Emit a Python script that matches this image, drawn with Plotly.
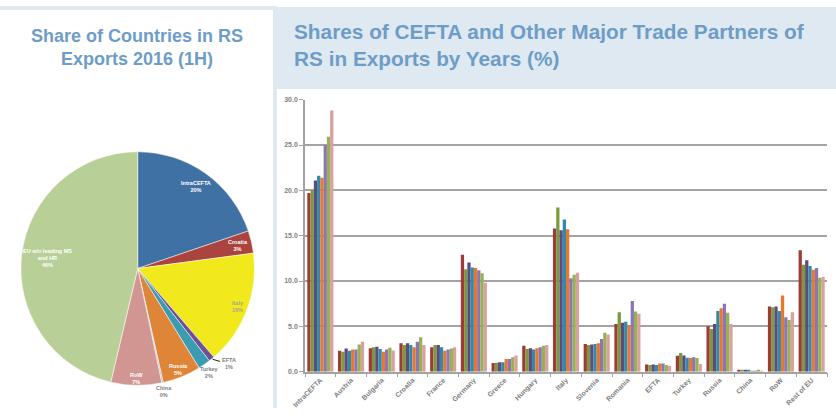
import math
import plotly.graph_objects as go

# Pie: structure of exports, 2016 (1H)
pie_labels = ["IntraCEFTA", "Croatia", "Italy", "EFTA", "Turkey", "Russia",
              "China", "RoW", "EU w/o leading MS<br>and HR"]
pie_values = [19.8, 3.1, 15.8, 0.8, 1.7, 5.3, 0.2, 7.0, 46.3]
pie_colors = ["#3f71a5", "#ab443f", "#f1e91b", "#6f4f95", "#3b9bb0",
              "#df8538", "#9dbbdc", "#d19592", "#b9cf98"]
pie_text_colors = ["white", "white", "#a9a58c", "#808080", "#808080",
                   "white", "#808080", "white", "white"]
# radial position of each label, as a fraction of the pie radius
pie_label_radius = [0.86, 0.88, 0.92, 1.0, 1.08, 0.93, 1.08, 0.94, 0.78]

# Bars: shares by partner and year (%)
partners = ["IntraCEFTA", "Austria", "Bulgaria", "Croatia", "France", "Germany",
            "Greece", "Hungary", "Italy", "Slovenia", "Romania", "EFTA",
            "Turkey", "Russia", "China", "RoW", "Rest of EU"]
years = ["2009", "2010", "2011", "2012", "2013", "2014", "2015", "2016"]
shares = {
    "2009": [19.7, 2.3, 2.6, 3.15, 2.7, 12.9, 0.95, 2.85, 15.8, 3.05, 5.25, 0.8, 1.75, 5.0, 0.18, 7.2, 13.4],
    "2010": [20.0, 2.2, 2.7, 2.95, 2.95, 11.3, 1.0, 2.5, 18.1, 2.95, 6.55, 0.75, 2.05, 4.7, 0.15, 7.1, 11.8],
    "2011": [21.1, 2.55, 2.75, 3.15, 2.95, 12.05, 1.05, 2.6, 15.6, 3.0, 5.4, 0.8, 1.8, 5.25, 0.15, 7.2, 12.3],
    "2012": [21.6, 2.3, 2.5, 2.95, 2.7, 11.5, 1.05, 2.45, 16.8, 3.05, 5.5, 0.75, 1.55, 6.7, 0.15, 6.7, 11.65],
    "2013": [21.4, 2.45, 2.2, 2.7, 2.3, 11.45, 1.4, 2.6, 15.7, 3.15, 5.15, 0.9, 1.5, 7.0, 0.07, 8.4, 11.25],
    "2014": [25.0, 2.45, 2.45, 3.3, 2.45, 11.2, 1.4, 2.7, 10.3, 3.6, 7.8, 0.9, 1.6, 7.5, 0.07, 6.0, 11.45],
    "2015": [25.9, 3.0, 2.65, 3.8, 2.55, 10.85, 1.6, 2.85, 10.7, 4.3, 6.65, 0.75, 1.5, 6.5, 0.18, 5.7, 10.35],
    "2016": [28.8, 3.3, 2.35, 2.95, 2.7, 9.8, 1.8, 2.95, 10.9, 4.1, 6.4, 0.65, 0.85, 5.25, 0.1, 6.55, 10.45],
}
year_colors = ["#9e3b37", "#7b9a3c", "#5e4a7f", "#2f8bab", "#ea772c",
               "#8b75b5", "#95b152", "#d9a09d"]
y_ticks = [0, 5, 10, 15, 20, 25, 30]

W, H = 836, 420
TITLE_BLUE = "#6d9dc7"
PANEL_BLUE = "#dfe9f2"
AXIS_GRAY = "#a3a3a3"
TEXT_GRAY = "#7f7f7f"
FONT = "Liberation Sans, Arial, sans-serif"


def px_x(v):
    return v / W


def px_y(v):
    return 1 - v / H


# pie placement (pixels)
PIE_CX, PIE_CY, PIE_R = 137.7, 268.5, 116.8

fig = go.Figure()

fig.add_trace(go.Pie(
    labels=pie_labels,
    values=pie_values,
    sort=False,
    direction="clockwise",
    rotation=0,
    marker=dict(colors=pie_colors, line=dict(color="white", width=0.5)),
    textinfo="none",
    domain=dict(x=[px_x(PIE_CX - PIE_R), px_x(PIE_CX + PIE_R)],
                y=[px_y(PIE_CY + PIE_R), px_y(PIE_CY - PIE_R)]),
    showlegend=False,
    hoverinfo="label+percent",
))

for yr, col in zip(years, year_colors):
    fig.add_trace(go.Bar(
        x=partners, y=shares[yr], name=yr,
        marker=dict(color=col, line=dict(width=0)),
        xaxis="x", yaxis="y", showlegend=False,
    ))

# slice labels placed along each slice's mid-angle
annotations = []
total = sum(pie_values)
cum = 0.0
for lab, val, col, f in zip(pie_labels, pie_values, pie_text_colors, pie_label_radius):
    mid = (cum + val / 2) / total * 2 * math.pi
    cum += val
    lx = PIE_CX + PIE_R * f * math.sin(mid)
    ly = PIE_CY - PIE_R * f * math.cos(mid)
    txt = f"<b>{lab}<br>{val / total:.0%}</b>"
    if lab == "EFTA":
        # small label with a leader line to the slice edge
        annotations.append(dict(
            text=txt, xref="paper", yref="paper", x=px_x(lx), y=px_y(ly),
            ax=17, ay=5, showarrow=True, arrowhead=0,
            arrowwidth=1, arrowcolor="#222222", standoff=1, startstandoff=0,
            xanchor="center", yanchor="middle",
            font=dict(size=5.5, color=col, family=FONT), align="center"))
    else:
        annotations.append(dict(
            text=txt, xref="paper", yref="paper", x=px_x(lx), y=px_y(ly),
            xanchor="center", yanchor="middle", showarrow=False, align="center",
            font=dict(size=5.5, color=col, family=FONT)))

annotations += [
    dict(text="<b>Share of Countries in RS<br>Exports 2016 (1H)</b>",
         xref="paper", yref="paper", x=px_x(137), y=px_y(24),
         xanchor="center", yanchor="top", showarrow=False, align="center",
         font=dict(size=18, color=TITLE_BLUE, family=FONT)),
    dict(text="<b>Shares of CEFTA and Other Major Trade Partners of<br>RS in Exports by Years (%)</b>",
         xref="paper", yref="paper", x=px_x(292), y=px_y(18),
         xanchor="left", yanchor="top", showarrow=False, align="left",
         font=dict(size=20.8, color=TITLE_BLUE, family=FONT)),
]

fig.update_layout(
    width=W, height=H,
    margin=dict(l=0, r=0, t=0, b=0, pad=0),
    paper_bgcolor="white",
    plot_bgcolor="white",
    barmode="group",
    bargap=0.15,
    bargroupgap=0,
    xaxis=dict(
        domain=[px_x(305), px_x(827)],
        automargin=False,
        showgrid=False,
        showline=True, linecolor=AXIS_GRAY, linewidth=1.5,
        ticks="outside", tickson="boundaries", ticklen=4, tickcolor=AXIS_GRAY,
        tickangle=-45,
        tickfont=dict(size=7, color=TEXT_GRAY, family=FONT, weight="bold"),
        fixedrange=True,
    ),
    yaxis=dict(
        domain=[px_y(371.7), px_y(99.7)],
        automargin=False,
        range=[0, 30],
        tickvals=y_ticks,
        ticktext=[f"{v:.1f}" for v in y_ticks],
        showgrid=True, gridcolor=AXIS_GRAY, gridwidth=1.5,
        zeroline=False,
        showline=True, linecolor=AXIS_GRAY, linewidth=1.5,
        ticks="outside", ticklen=4, tickcolor=AXIS_GRAY,
        tickfont=dict(size=7, color=TEXT_GRAY, family=FONT, weight="bold"),
        fixedrange=True,
    ),
    shapes=[
        # title box of the bar panel
        dict(type="rect", xref="paper", yref="paper",
             x0=px_x(277), x1=1, y0=px_y(89), y1=px_y(7),
             fillcolor=PANEL_BLUE, line=dict(width=0), layer="below"),
        # frame of the pie panel
        dict(type="rect", xref="paper", yref="paper",
             x0=0, x1=px_x(277), y0=px_y(10), y1=px_y(6),
             fillcolor=PANEL_BLUE, line=dict(width=0), layer="below"),
        dict(type="rect", xref="paper", yref="paper",
             x0=px_x(273), x1=px_x(277), y0=px_y(408), y1=px_y(6),
             fillcolor=PANEL_BLUE, line=dict(width=0), layer="below"),
    ],
    annotations=annotations,
)

fig.write_html("out.html")
